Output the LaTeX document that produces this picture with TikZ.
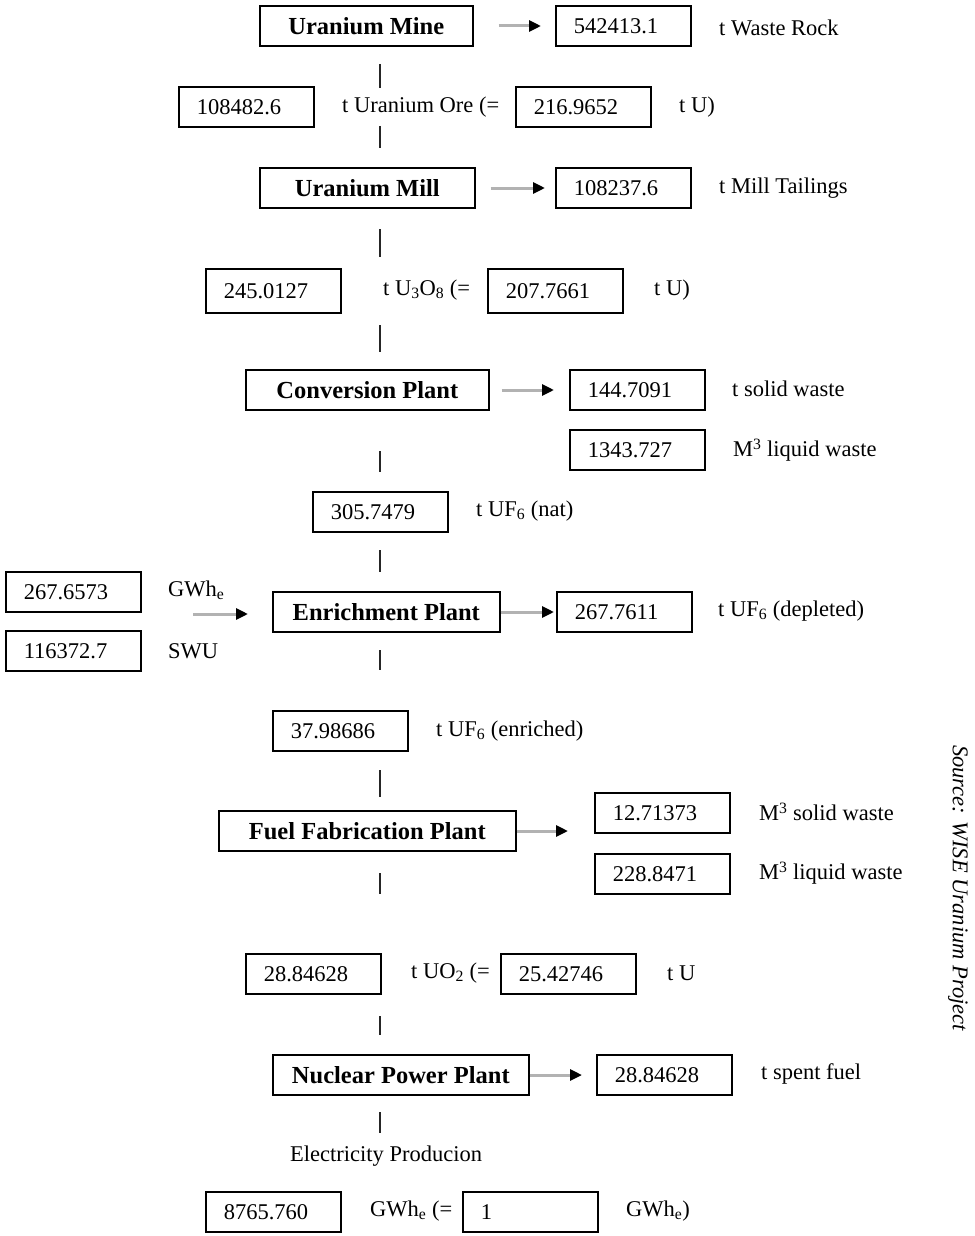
\documentclass[tikz,border=0pt]{standalone}
\usepackage{fontspec}
\setmainfont{Liberation Serif}
\usetikzlibrary{arrows.meta}
\begin{document}
\begin{tikzpicture}[x=1pt,y=-1pt,
  every node/.style={font=\fontsize{22.5}{26}\selectfont},
  numbox/.style={draw, line width=1.6pt, minimum height=40pt, text width=99pt, inner xsep=18pt, align=left, anchor=west},
  procbox/.style={draw, line width=1.6pt, minimum height=40pt, anchor=west, inner xsep=0pt, font=\fontsize{24.5}{28}\bfseries\selectfont},
  lbl/.style={anchor=west, inner sep=0pt},
  flow/.style={draw=gray!60, line width=3pt, -{Triangle[length=12pt,width=11pt,black]}},
  tick/.style={draw=black!85, line width=1.5pt}
]
\useasboundingbox (0,0) rectangle (974,1236);
% Row 1
\node[procbox, minimum width=213pt] (mine) at (259,26) {Uranium Mine};
\node[numbox] (wr) at (555,26) {542413.1};
\node[lbl] (wrl) at (719,28) {t Waste Rock};
\draw[flow, shorten <=25pt, shorten >=14pt] (mine.east) -- (wr.west);
\coordinate (t1a) at (380,64); \coordinate (t1b) at (380,88);
\draw[tick] (t1a) -- (t1b);
% Row 2
\node[numbox] (ore) at (178,107) {108482.6};
\node[lbl] (orel) at (342,107) {t Uranium Ore (=};
\node[numbox] (oreu) at (515,107) {216.9652};
\node[lbl] (oreul) at (679,107) {t U)};
\coordinate (t2a) at (380,126); \coordinate (t2b) at (380,148);
\draw[tick] (t2a) -- (t2b);
% Row 3
\node[procbox, minimum width=215pt] (mill) at (259,188) {Uranium Mill};
\node[numbox] (tail) at (555,188) {108237.6};
\node[lbl] (taill) at (719,188) {t Mill Tailings};
\draw[flow, shorten <=15pt, shorten >=10pt] (mill.east) -- (tail.west);
\coordinate (t3a) at (380,229); \coordinate (t3b) at (380,257);
\draw[tick] (t3a) -- (t3b);
% Row 4
\node[numbox, minimum height=44pt] (uo) at (205,291) {245.0127};
\node[lbl] (uol) at (383,290) {t U\textsubscript{3}O\textsubscript{8} (=};
\node[numbox, minimum height=44pt] (uou) at (487,291) {207.7661};
\node[lbl] (uoul) at (654,290) {t U)};
\coordinate (t4a) at (380,325); \coordinate (t4b) at (380,352);
\draw[tick] (t4a) -- (t4b);
% Row 5
\node[procbox, minimum width=243pt] (conv) at (245,390) {Conversion Plant};
\node[numbox] (csw) at (569,390) {144.7091};
\node[lbl] (cswl) at (732,389) {t solid waste};
\node[numbox] (clw) at (569,450) {1343.727};
\node[lbl] (clwl) at (733,450) {M\textsuperscript{3} liquid waste};
\draw[flow, shorten <=12pt, shorten >=15pt] (conv.east) -- (csw.west);
\coordinate (t5a) at (380,451); \coordinate (t5b) at (380,472);
\draw[tick] (t5a) -- (t5b);
% Row 6
\node[numbox] (nat) at (312,512) {305.7479};
\node[lbl] (natl) at (476,511) {t UF\textsubscript{6} (nat)};
\coordinate (t6a) at (380,550); \coordinate (t6b) at (380,572);
\draw[tick] (t6a) -- (t6b);
% Row 7
\node[numbox] (gwh) at (5,592) {267.6573};
\node[lbl] (gwhl) at (168,590) {GWh\textsubscript{e}};
\node[numbox] (swu) at (5,651) {116372.7};
\node[lbl] (swul) at (168,651) {SWU};
\node[procbox, minimum width=227pt] (enr) at (272,612) {Enrichment Plant};
\node[numbox] (dep) at (556,612) {267.7611};
\node[lbl] (depl) at (718,611) {t UF\textsubscript{6} (depleted)};
\coordinate (ein) at (193,614);
\draw[flow, shorten >=24pt] (ein) -- (ein -| enr.west);
\draw[flow, shorten >=2pt] (enr.east) -- (dep.west);
\coordinate (t7a) at (380,650); \coordinate (t7b) at (380,670);
\draw[tick] (t7a) -- (t7b);
% Row 8
\node[numbox] (enrd) at (272,731) {37.98686};
\node[lbl] (enrdl) at (436,731) {t UF\textsubscript{6} (enriched)};
\coordinate (t8a) at (380,770); \coordinate (t8b) at (380,797);
\draw[tick] (t8a) -- (t8b);
% Row 9
\node[procbox, minimum width=297pt] (fab) at (218,831) {Fuel Fabrication Plant};
\node[numbox] (fsw) at (594,813) {12.71373};
\node[lbl] (fswl) at (759,812) {M\textsuperscript{3} solid waste};
\node[numbox] (flw) at (594,874) {228.8471};
\node[lbl] (flwl) at (759,873) {M\textsuperscript{3} liquid waste};
\coordinate (fout) at (568,831);
\draw[flow] (fab.east) -- (fout);
\coordinate (t9a) at (380,873); \coordinate (t9b) at (380,894);
\draw[tick] (t9a) -- (t9b);
% Row 10
\node[numbox] (uo2) at (245,974) {28.84628};
\node[lbl] (uo2l) at (411,973) {t UO\textsubscript{2} (=};
\node[numbox] (uo2u) at (500,974) {25.42746};
\node[lbl] (uo2ul) at (667,973) {t U};
\coordinate (t10a) at (380,1016); \coordinate (t10b) at (380,1035);
\draw[tick] (t10a) -- (t10b);
% Row 11
\node[procbox, minimum width=256pt] (npp) at (272,1075) {Nuclear Power Plant};
\node[numbox] (spent) at (596,1075) {28.84628};
\node[lbl] (spentl) at (761,1074) {t spent fuel};
\draw[flow, shorten >=14pt] (npp.east) -- (spent.west);
\coordinate (t11a) at (380,1112); \coordinate (t11b) at (380,1133);
\draw[tick] (t11a) -- (t11b);
\node[lbl] (elec) at (290,1156) {Electricity Producion};
% Row 12
\node[numbox] (gw1) at (205,1212) {8765.760};
\node[lbl] (gw1l) at (370,1211) {GWh\textsubscript{e} (=};
\node[numbox] (gw2) at (462,1212) {1};
\node[lbl] (gw2l) at (626,1211) {GWh\textsubscript{e})};
% Source
\node[rotate=-90, inner sep=0pt, font=\fontsize{22.5}{26}\itshape\selectfont] (src) at (958,888) {Source: WISE Uranium Project};
\end{tikzpicture}
\end{document}
